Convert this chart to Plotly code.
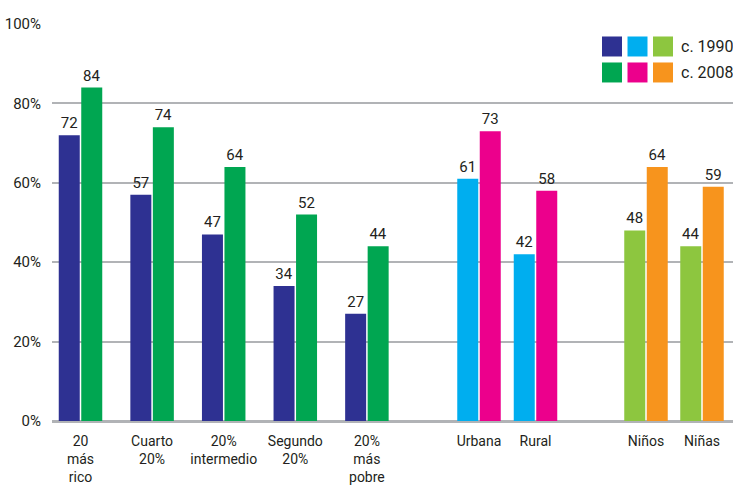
import plotly.graph_objects as go
from plotly.subplots import make_subplots

# ---- data ----
quintile_labels = ["20<br>más<br>rico", "Cuarto<br>20%", "20%<br>intermedio", "Segundo<br>20%", "20%<br>más<br>pobre"]
quintile_1990 = [72, 57, 47, 34, 27]
quintile_2008 = [84, 74, 64, 52, 44]

area_labels = ["Urbana", "Rural"]
area_1990 = [61, 42]
area_2008 = [73, 58]

sex_labels = ["Niños", "Niñas"]
sex_1990 = [48, 44]
sex_2008 = [64, 59]

y_tick_vals = [0, 20, 40, 60, 80, 100]
y_tick_text = ["0%", "20%", "40%", "60%", "80%", "100%"]
legend_labels = ["c. 1990", "c. 2008"]

# ---- style ----
FONT = "Roboto, 'Liberation Sans', sans-serif"
TXT = "#231f20"
GRID = "#b1b3b6"
C_NAVY, C_GREEN = "#2e3192", "#00a651"
C_CYAN, C_MAGENTA = "#00aeef", "#ec008c"
C_LIME, C_ORANGE = "#8dc63f", "#f7941d"

W, H = 733, 486
ML, MR, MT, MB = 52, 0, 23.5, 65.3
PW = W - ML - MR
PH = H - MT - MB

# panel pixel layout: (left px, right px, first-centre px, spacing px)
panels = [
    (52, 420, 80.5, 71.6),
    (420, 590, 479, 56.5),
    (590, 733, 646, 56),
]
BAR_PX = 21
GAP_PX = 1.5

fig = make_subplots(rows=1, cols=3, shared_yaxes=True, horizontal_spacing=0)

groups = [
    (quintile_labels, quintile_1990, quintile_2008, C_NAVY, C_GREEN),
    (area_labels, area_1990, area_2008, C_CYAN, C_MAGENTA),
    (sex_labels, sex_1990, sex_2008, C_LIME, C_ORANGE),
]

for i, ((cats, v1, v2, c1, c2), (lpx, rpx, c0, sp)) in enumerate(zip(groups, panels)):
    col = i + 1
    w = BAR_PX / sp
    g = GAP_PX / 2 / sp
    for vals, color, off in [(v1, c1, -w - g), (v2, c2, g)]:
        fig.add_trace(go.Bar(
            x=cats, y=vals, marker=dict(color=color, line=dict(width=0)),
            width=w, offset=off,
            text=[str(v) for v in vals], textposition="outside",
            textfont=dict(family=FONT, size=15, color=TXT),
            cliponaxis=False, showlegend=False, hoverinfo="skip",
        ), row=1, col=col)
    xa = "xaxis" if col == 1 else f"xaxis{col}"
    fig.layout[xa].update(
        domain=[(lpx - ML) / PW, (rpx - ML) / PW],
        range=[(lpx - c0) / sp, (rpx - c0) / sp],
        showgrid=False, zeroline=False, showline=False,
        ticks="", ticklabelstandoff=10, tickangle=0, automargin=False,
        tickfont=dict(family=FONT, size=14, color=TXT),
        fixedrange=True,
    )
    ya = "yaxis" if col == 1 else f"yaxis{col}"
    fig.layout[ya].update(
        range=[0, 100], tickvals=y_tick_vals, ticktext=y_tick_text,
        showgrid=True, gridcolor=GRID, gridwidth=1.5,
        zeroline=True, zerolinecolor=GRID, zerolinewidth=2.5,
        showline=False, ticks="", automargin=False,
        tickfont=dict(family=FONT, size=15, color=TXT),
        ticklabelstandoff=10,
    )

fig.update_layout(
    width=W, height=H,
    margin=dict(l=ML, r=MR, t=MT, b=MB, pad=0, autoexpand=False),
    paper_bgcolor="white", plot_bgcolor="white",
    barmode="overlay",
    font=dict(family=FONT, size=15, color=TXT),
)

# ---- custom legend (3 swatches per period) ----
def px_x(p):
    return (p - ML) / PW

def px_y(p):
    return (H - MB - p) / PH

legend_rows = [
    ([C_NAVY, C_CYAN, C_LIME], legend_labels[0], 36),
    ([C_GREEN, C_MAGENTA, C_ORANGE], legend_labels[1], 62),
]
sw_left = [602, 627.5, 653]
for colors, label, top in legend_rows:
    for c, xl in zip(colors, sw_left):
        fig.add_shape(type="rect", xref="paper", yref="paper",
                      x0=px_x(xl), x1=px_x(xl + 20), y0=px_y(top + 20), y1=px_y(top),
                      fillcolor=c, line=dict(width=0), layer="above")
    fig.add_annotation(text=label, xref="paper", yref="paper",
                       x=px_x(679), y=px_y(top + 10), xanchor="left", yanchor="middle",
                       showarrow=False, font=dict(family=FONT, size=16, color=TXT))

fig.write_html("out.html", config={"displayModeBar": False},
               post_script="document.body.style.margin='0';")
